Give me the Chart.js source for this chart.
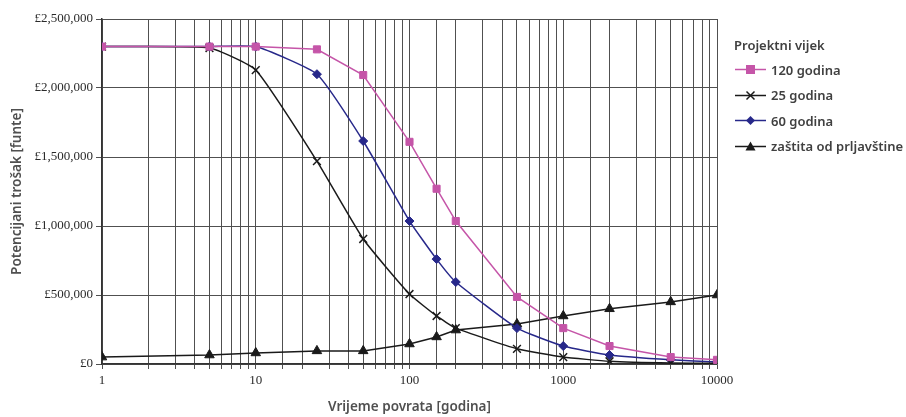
<!DOCTYPE html>
<html>
<head>
<meta charset="utf-8">
<script src="https://cdn.jsdelivr.net/npm/chart.js@4/dist/chart.umd.min.js"></script>
<style>
  body { margin: 0; background: #fff; }
  #wrap { position: relative; width: 906px; height: 417px; }
  #legend { position: absolute; left: 734px; top: 35px; font-family: "Noto Sans", sans-serif; font-weight: 600; color: #404040; font-size: 13px; }
  #legend .ttl { height: 22px; line-height: 20px; }
  #legend .item { display: flex; align-items: center; height: 25.5px; }
  #legend svg { margin-right: 4px; }
</style>
</head>
<body>
<div id="wrap">
  <canvas id="chart" width="906" height="417"></canvas>
  <div id="legend"></div>
</div>
<script>
// godine povrata
var povrat = [1, 5, 10, 25, 50, 100, 150, 200, 500, 1000, 2000, 5000, 10000];

var vijek120 = [2300000, 2300000, 2300000, 2280000, 2094000, 1610000, 1270000, 1036000, 486000, 260000, 130000, 50000, 30000];
var vijek25  = [2300000, 2290000, 2130000, 1470000, 906000, 507000, 348000, 260000, 110000, 50000, 20000, 7000, 5000];
var vijek60  = [2300000, 2300000, 2300000, 2100000, 1616000, 1036000, 760000, 594000, 260000, 130000, 65000, 30000, 15000];
var zastita  = [50000, 65000, 80000, 95000, 95000, 145000, 196000, 246000, 290000, 348000, 400000, 450000, 500000];

var yTicks = [0, 500000, 1000000, 1500000, 2000000, 2500000];

function pts(arr) {
  return povrat.map(function (x, i) { return { x: x, y: arr[i] }; });
}

var serije = [
  { label: '120 godina', data: vijek120, color: '#c555a8', style: 'rect', r: 5, tension: 0 },
  { label: '25 godina', data: vijek25, color: '#1a1a1a', style: 'crossRot', r: 5.5, tension: 0.15 },
  { label: '60 godina', data: vijek60, color: '#27288a', style: 'rectRot', r: 4.5, tension: 0.15 },
  { label: 'zaštita od prljavštine', data: zastita, color: '#1a1a1a', style: 'triangle', r: 5.5, tension: 0 }
];

var datasets = serije.map(function (s) {
  return {
    label: s.label,
    data: pts(s.data),
    borderColor: s.color,
    backgroundColor: s.color,
    pointStyle: s.style,
    pointRadius: s.r,
    pointBorderWidth: s.style === 'crossRot' ? 1.5 : 1,
    borderWidth: 1.5,
    tension: s.tension,
    fill: false
  };
});

var gridCol = '#505050';

var config = {
  type: 'line',
  data: { datasets: datasets },
  options: {
    responsive: false,
    animation: false,
    layout: { padding: { left: 0, right: 189, top: 19, bottom: 2 } },
    plugins: { legend: { display: false }, tooltip: { enabled: false } },
    scales: {
      x: {
        type: 'logarithmic',
        min: 1,
        max: 10000,
        afterFit: function (sc) { sc.height = 51; },
        grid: { color: gridCol, lineWidth: 1, tickLength: 5 },
        border: { color: '#333', width: 1.5 },
        ticks: {
          autoSkip: false,
          maxRotation: 0,
          color: '#2a2a2a',
          font: { family: 'Liberation Serif', size: 13 },
          padding: 4,
          callback: function (v) {
            var l = Math.log10(v);
            return Math.abs(l - Math.round(l)) < 1e-9 ? String(v) : '';
          }
        },
        title: {
          display: true,
          text: 'Vrijeme povrata [godina]',
          color: '#505050',
          font: { family: 'Noto Sans', size: 13.5, weight: '600' },
          padding: { top: 6, bottom: 0 }
        }
      },
      y: {
        min: 0,
        max: 2500000,
        afterFit: function (sc) { sc.width = 102; },
        afterBuildTicks: function (sc) { sc.ticks = yTicks.map(function (v) { return { value: v }; }); },
        grid: { color: gridCol, lineWidth: 1, tickLength: 6 },
        border: { color: '#333', width: 1.5 },
        ticks: {
          color: '#2a2a2a',
          font: { family: 'Liberation Serif', size: 13 },
          padding: 3,
          callback: function (v) { return '£' + v.toLocaleString('en-US'); }
        },
        title: {
          display: true,
          text: 'Potencijani trošak [funte]',
          color: '#505050',
          font: { family: 'Noto Sans', size: 13.5, weight: '600' },
          padding: { top: 9, bottom: 4 }
        }
      }
    }
  }
};

var ctx = document.getElementById('chart').getContext('2d');
window.myLine = new Chart(ctx, config);

// legenda
function marker(s) {
  var c = s.color, m = '';
  if (s.style === 'rect') m = '<rect x="12" y="4" width="9" height="9" fill="' + c + '"/>';
  if (s.style === 'crossRot') m = '<path d="M12.5 4.5 L20.5 12.5 M20.5 4.5 L12.5 12.5" stroke="' + c + '" stroke-width="1.5"/>';
  if (s.style === 'rectRot') m = '<path d="M16.5 4 L21 8.5 L16.5 13 L12 8.5 Z" fill="' + c + '"/>';
  if (s.style === 'triangle') m = '<path d="M16.5 3.5 L21.5 12.5 L11.5 12.5 Z" fill="' + c + '"/>';
  return '<svg width="33" height="17"><line x1="1" y1="8.5" x2="32" y2="8.5" stroke="' + c + '" stroke-width="1.5"/>' + m + '</svg>';
}
var html = '<div class="ttl">Projektni vijek</div>';
serije.forEach(function (s) {
  html += '<div class="item">' + marker(s) + '<span>' + s.label + '</span></div>';
});
document.getElementById('legend').innerHTML = html;
</script>
</body>
</html>
